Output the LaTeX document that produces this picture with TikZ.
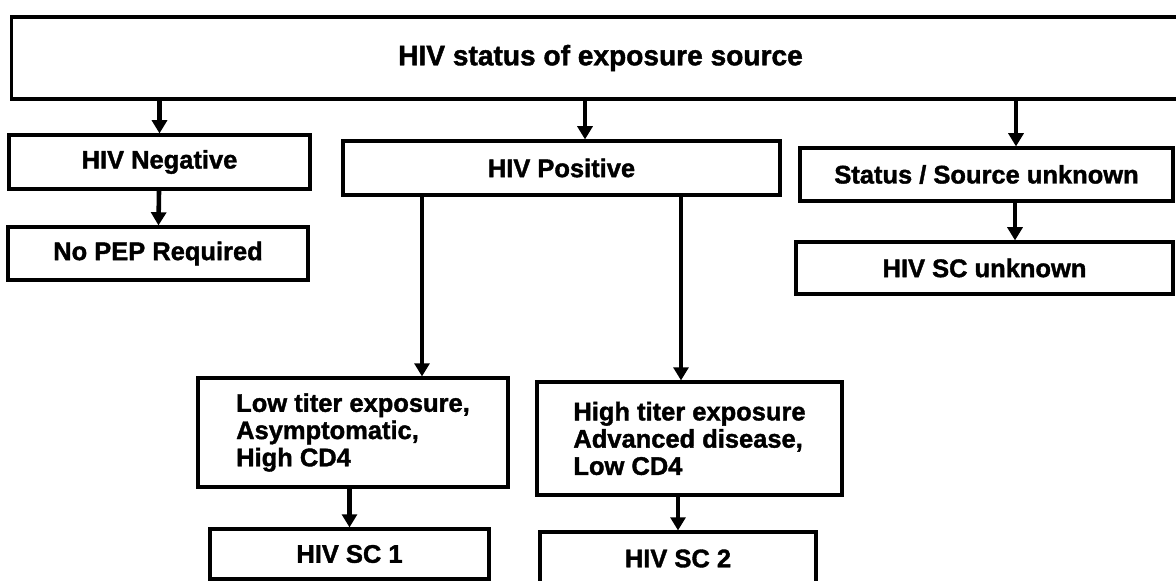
\documentclass[tikz,border=0pt]{standalone}
\usepackage{fontspec}
\setmainfont{Liberation Sans}[BoldFeatures={FakeBold=1.5}]
\usepackage{tikz}
\usetikzlibrary{arrows.meta, positioning}

\begin{document}
\begin{tikzpicture}[x=0.02cm,y=-0.02cm,
      box/.style={draw,line width=1.8pt,rectangle,inner sep=0pt,
                  font=\fontsize{14.5}{15.5}\selectfont\bfseries},
      arr/.style={line width=2.6pt,-{Triangle[length=7.5pt,width=8.5pt]}}]
      \useasboundingbox (0,0) rectangle (1176,581);
      \clip (0,0) rectangle (1176,581);

      \node[box,minimum width=23.58cm,minimum height=1.64cm,
            font=\fontsize{16}{18}\selectfont\bfseries] (hiv_src) at (600.5,58) {HIV status of exposure source};
      \node[box,minimum width=6.02cm,minimum height=1.08cm] (hiv_neg) at (159.5,162) {HIV Negative};
      \node[box,minimum width=6.0cm,minimum height=1.06cm] (no_pep) at (158,253.5) {No PEP Required};
      \node[box,minimum width=8.74cm,minimum height=1.08cm] (hiv_pos) at (561.5,168) {HIV Positive};
      \node[box,minimum width=7.46cm,minimum height=1.06cm] (hiv_unk) at (986.5,174.5) {Status / Source unknown};
      \node[box,minimum width=7.54cm,minimum height=1.04cm] (sc_unk) at (984.5,268) {HIV SC unknown};
      \node[box,align=left,minimum width=6.2cm,minimum height=2.18cm] (low_tit) at (353,432.5)
            {Low titer exposure,\\Asymptomatic,\\High CD4};
      \node[box,align=left,minimum width=6.1cm,minimum height=2.26cm] (high_tit) at (689.5,438.5)
            {High titer exposure\\Advanced disease,\\Low CD4};
      \node[box,minimum width=5.58cm,minimum height=1.0cm] (sc_1) at (349.5,554) {HIV SC 1};
      \node[box,minimum width=5.52cm,minimum height=1.06cm] (sc_2) at (678,558.5) {HIV SC 2};

      \draw[arr] (hiv_src.south -| hiv_neg.north) -- (hiv_neg.north);
      \draw[arr] (hiv_src.south -| 585,0) -- (hiv_pos.north -| 585,0);
      \draw[arr] (hiv_src.south -| 1016,0) -- (hiv_unk.north -| 1016,0);
      \draw[arr] (hiv_neg) -- (no_pep);
      \draw[arr] (hiv_pos.south -| 422,0) -- (low_tit.north -| 422,0);
      \draw[arr] (hiv_pos.south -| 681,0) -- (high_tit.north -| 681,0);
      \draw[arr] (hiv_unk.south -| 1015,0) -- (sc_unk.north -| 1015,0);
      \draw[arr] (low_tit.south -| sc_1.north) -- (sc_1.north);
      \draw[arr] (high_tit.south -| sc_2.north) -- (sc_2.north);
\end{tikzpicture}
\end{document}
